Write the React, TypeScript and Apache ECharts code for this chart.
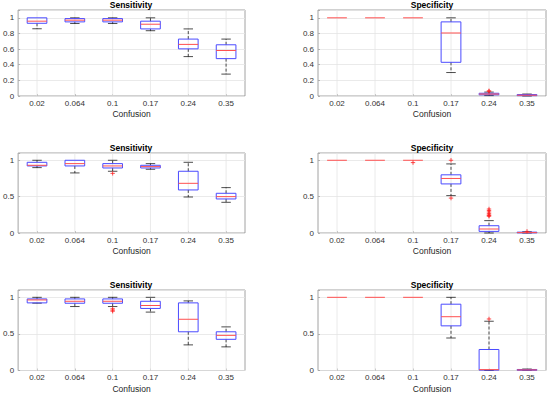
import React, { useEffect, useRef } from "react";
import * as echarts from "echarts";

// ---------- data ----------
const categories = ["0.02", "0.064", "0.1", "0.17", "0.24", "0.35"];

// each box: [lowWhisker, q1, median, q3, highWhisker]
const sens1 = [
  [0.86, 0.93, 0.957, 1.0, 1.0],
  [0.927, 0.948, 0.97, 0.99, 1.0],
  [0.927, 0.948, 0.97, 0.99, 1.0],
  [0.835, 0.858, 0.918, 0.957, 1.0],
  [0.504, 0.603, 0.66, 0.728, 0.858],
  [0.28, 0.478, 0.582, 0.655, 0.728],
];
const sens1Out: number[][] = [];

const spec1 = [
  [1, 1, 1, 1, 1],
  [1, 1, 1, 1, 1],
  [1, 1, 1, 1, 1],
  [0.3, 0.431, 0.806, 0.948, 1.0],
  [0.005, 0.015, 0.025, 0.035, 0.05],
  [0.0, 0.004, 0.01, 0.018, 0.025],
];
const spec1Out = [
  [4, 0.06],
  [4, 0.066],
];

const sens2 = [
  [0.899, 0.922, 0.931, 0.972, 1.0],
  [0.826, 0.922, 0.954, 1.0, 1.0],
  [0.849, 0.894, 0.922, 0.954, 1.0],
  [0.876, 0.894, 0.913, 0.931, 0.954],
  [0.495, 0.592, 0.683, 0.849, 0.972],
  [0.422, 0.468, 0.5, 0.546, 0.624],
];
const sens2Out = [[2, 0.82]];

const spec2 = [
  [1, 1, 1, 1, 1],
  [1, 1, 1, 1, 1],
  [1, 1, 1, 1, 1],
  [0.514, 0.675, 0.75, 0.8, 0.95],
  [0.0, 0.022, 0.055, 0.1, 0.17],
  [0.0, 0.002, 0.006, 0.012, 0.018],
];
const spec2Out = [
  [2, 0.968],
  [3, 1.0],
  [3, 0.48],
  [4, 0.23],
  [4, 0.24],
  [4, 0.25],
  [4, 0.27],
  [4, 0.29],
  [4, 0.31],
  [4, 0.33],
  [5, 0.022],
];

const sens3 = [
  [0.92, 0.924, 0.964, 0.978, 1.0],
  [0.874, 0.919, 0.946, 0.978, 1.0],
  [0.874, 0.919, 0.946, 0.978, 1.0],
  [0.798, 0.848, 0.888, 0.946, 1.0],
  [0.35, 0.529, 0.7, 0.924, 0.951],
  [0.323, 0.426, 0.48, 0.529, 0.596],
];
const sens3Out = [
  [2, 0.843],
  [2, 0.825],
  [2, 0.81],
];

const spec3 = [
  [1, 1, 1, 1, 1],
  [1, 1, 1, 1, 1],
  [1, 1, 1, 1, 1],
  [0.444, 0.61, 0.735, 0.906, 1.0],
  [0.0, 0.005, 0.012, 0.287, 0.673],
  [0.0, 0.003, 0.008, 0.014, 0.02],
];
const spec3Out = [[4, 0.704]];

const yTicksRow1 = ["0", "0.2", "0.4", "0.6", "0.8", "1"];
const yTicksRow23 = ["0", "0.5", "1"];

// ---------- layout ----------
const FONT = "Liberation Sans, Arial, Helvetica, sans-serif";
const panels = [
  { title: "Sensitivity", boxes: sens1, out: sens1Out, left: 17, top: 10, height: 86, interval: 0.2, ticks: yTicksRow1, titleY: 5.3 },
  { title: "Specificity", boxes: spec1, out: spec1Out, left: 318, top: 10, height: 86, interval: 0.2, ticks: yTicksRow1, titleY: 5.3 },
  { title: "Sensitivity", boxes: sens2, out: sens2Out, left: 17, top: 153, height: 80, interval: 0.5, ticks: yTicksRow23, titleY: 147.8 },
  { title: "Specificity", boxes: spec2, out: spec2Out, left: 318, top: 153, height: 80, interval: 0.5, ticks: yTicksRow23, titleY: 147.8 },
  { title: "Sensitivity", boxes: sens3, out: sens3Out, left: 17, top: 290, height: 82, interval: 0.5, ticks: yTicksRow23, titleY: 285 },
  { title: "Specificity", boxes: spec3, out: spec3Out, left: 318, top: 290, height: 82, interval: 0.5, ticks: yTicksRow23, titleY: 285 },
];
const PANEL_W = 228;
const Y_MAX = 1.1;

const renderBox = (params: any, api: any) => {
  const x = api.value(0);
  const low = api.value(1);
  const q1 = api.value(2);
  const med = api.value(3);
  const q3 = api.value(4);
  const high = api.value(5);
  const band = api.size([1, 0])[0];
  const bw = band * 0.52;
  const cw = band * 0.25;
  const pLow = api.coord([x, low]);
  const pQ1 = api.coord([x, q1]);
  const pMed = api.coord([x, med]);
  const pQ3 = api.coord([x, q3]);
  const pHigh = api.coord([x, high]);
  const pTop = api.coord([x, Y_MAX]);
  const pBot = api.coord([x, 0]);
  const cx = pLow[0];
  const whisk = { stroke: "#000", lineWidth: 0.7, lineDash: [3, 2] };
  const cap = { stroke: "#000", lineWidth: 0.7 };
  const children: any[] = [
    { type: "line", shape: { x1: cx, y1: pTop[1], x2: cx, y2: pBot[1] }, style: { stroke: "#e4e4e4", lineWidth: 0.8 } },
  ];
  if (high > q3) {
    children.push({ type: "line", shape: { x1: cx, y1: pQ3[1], x2: cx, y2: pHigh[1] }, style: whisk });
    children.push({ type: "line", shape: { x1: cx - cw / 2, y1: pHigh[1], x2: cx + cw / 2, y2: pHigh[1] }, style: cap });
  }
  if (low < q1) {
    children.push({ type: "line", shape: { x1: cx, y1: pQ1[1], x2: cx, y2: pLow[1] }, style: whisk });
    children.push({ type: "line", shape: { x1: cx - cw / 2, y1: pLow[1], x2: cx + cw / 2, y2: pLow[1] }, style: cap });
  }
  if (q3 > q1) {
    children.push({
      type: "rect",
      shape: { x: cx - bw / 2, y: pQ3[1], width: bw, height: pQ1[1] - pQ3[1] },
      style: { fill: "none", stroke: "#4a4aff", lineWidth: 1 },
    });
  }
  children.push({
    type: "line",
    shape: { x1: cx - bw / 2, y1: pMed[1], x2: cx + bw / 2, y2: pMed[1] },
    style: { stroke: "#ff5050", lineWidth: 1 },
  });
  return { type: "group", children };
};

const renderOutlier = (params: any, api: any) => {
  const p = api.coord([api.value(0), api.value(1)]);
  const s = 2.2;
  const st = { stroke: "#ff2020", lineWidth: 0.8 };
  return {
    type: "group",
    children: [
      { type: "line", shape: { x1: p[0] - s, y1: p[1], x2: p[0] + s, y2: p[1] }, style: st },
      { type: "line", shape: { x1: p[0], y1: p[1] - s, x2: p[0], y2: p[1] + s }, style: st },
    ],
  };
};

export default function App() {
  const ref = useRef<HTMLDivElement>(null);
  useEffect(() => {
    document.body.style.margin = "0";
    if (!ref.current) return;
    const chart = echarts.init(ref.current, undefined, { renderer: "svg" });
    const grid: any[] = [];
    const xAxis: any[] = [];
    const yAxis: any[] = [];
    const series: any[] = [];
    const graphic: any[] = [];
    panels.forEach((p, i) => {
      grid.push({
        left: p.left,
        top: p.top,
        width: PANEL_W,
        height: p.height,
        show: true,
        borderColor: "#8c8c8c",
        borderWidth: 0.8,
        backgroundColor: "transparent",
      });
      xAxis.push({
        type: "category",
        gridIndex: i,
        data: categories,
        boundaryGap: true,
        name: "Confusion",
        nameLocation: "middle",
        nameGap: 13.5,
        nameTextStyle: { fontFamily: FONT, fontSize: 8.5, color: "#262626", verticalAlign: "top" },
        axisLine: { show: false },
        axisTick: { show: true, inside: true, length: 2, alignWithLabel: true, lineStyle: { color: "#8c8c8c", width: 0.6 } },
        axisLabel: { fontFamily: FONT, fontSize: 8, color: "#333", margin: 3 },
        splitLine: { show: false },
      });
      yAxis.push({
        type: "value",
        gridIndex: i,
        min: 0,
        max: Y_MAX,
        interval: p.interval,
        axisLine: { show: false },
        axisTick: { show: true, inside: true, length: 2, lineStyle: { color: "#8c8c8c", width: 0.6 } },
        axisLabel: {
          fontFamily: FONT,
          fontSize: 8,
          color: "#333",
          margin: 4,
          formatter: (v: number) => {
            const k = Math.round(v / p.interval);
            return Math.abs(k * p.interval - v) < 1e-6 && k < p.ticks.length ? p.ticks[k] : "";
          },
        },
        splitLine: { show: true, lineStyle: { color: "#e4e4e4", width: 0.8 } },
      });
      series.push({
        type: "custom",
        xAxisIndex: i,
        yAxisIndex: i,
        renderItem: renderBox,
        encode: { x: 0, y: [1, 2, 3, 4, 5] },
        data: p.boxes.map((b, k) => [k, ...b]),
        z: 2,
      });
      series.push({
        type: "custom",
        xAxisIndex: i,
        yAxisIndex: i,
        renderItem: renderOutlier,
        encode: { x: 0, y: 1 },
        data: p.out,
        z: 3,
      });
      graphic.push({
        type: "text",
        x: p.left + PANEL_W / 2,
        y: p.titleY,
        style: {
          text: p.title,
          align: "center",
          verticalAlign: "middle",
          fill: "#000",
          font: `bold 8.5px ${FONT}`,
        },
      });
    });
    chart.setOption({
      animation: false,
      backgroundColor: "#fff",
      grid,
      xAxis,
      yAxis,
      series,
      graphic,
    });
    return () => chart.dispose();
  }, []);
  return (
    <div
      ref={ref}
      style={{ position: "absolute", left: 0, top: 0, width: 550, height: 394 }}
    />
  );
}
